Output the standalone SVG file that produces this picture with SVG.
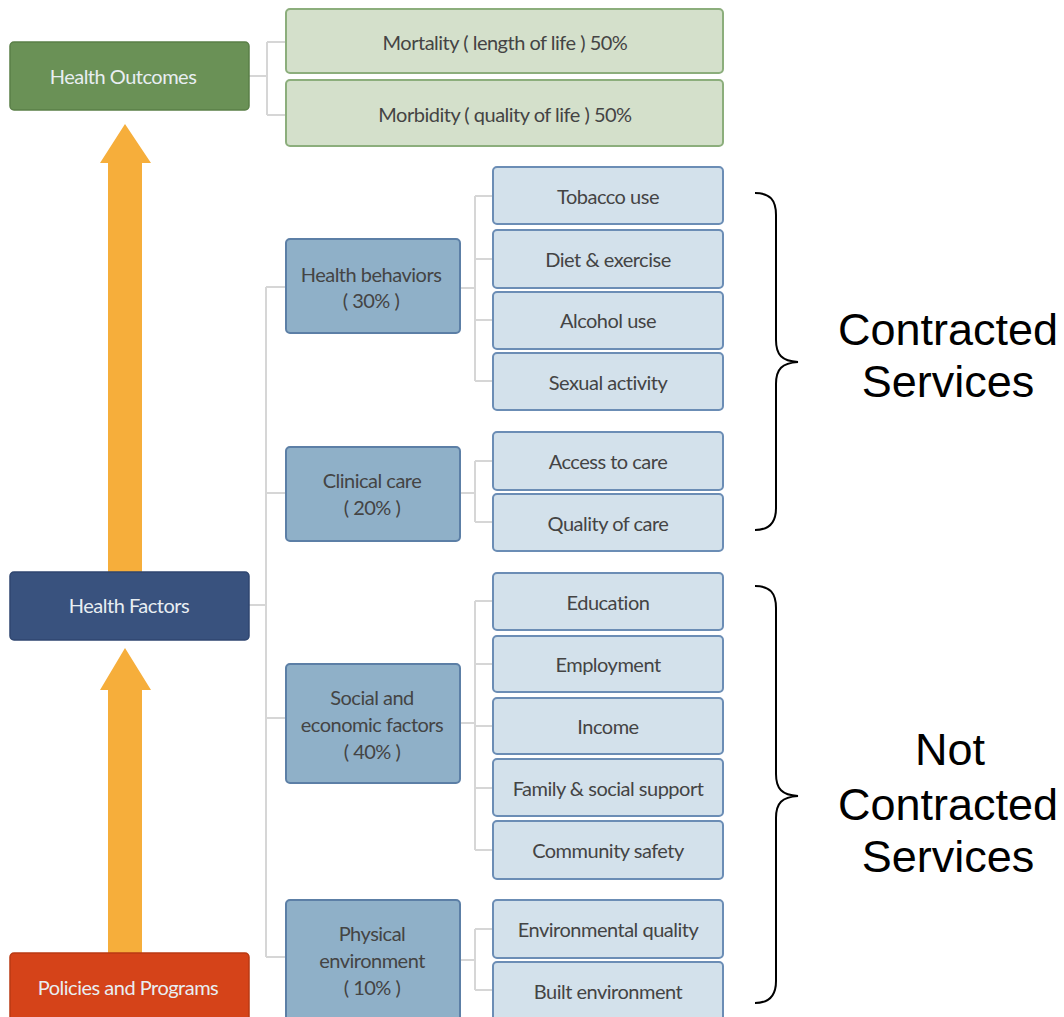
<svg xmlns="http://www.w3.org/2000/svg" width="1064" height="1017" viewBox="0 0 1064 1017">
<defs>
<style>
.t{font-family:Lato,"Open Sans","Liberation Sans",sans-serif;font-size:20px;letter-spacing:-0.5px;text-anchor:middle;dominant-baseline:central}
.dk{fill:#444}
.lt{fill:#e8eef2}
.green{fill:#d4e0cb;stroke:#8cae7c;stroke-width:2}
.leaf{fill:#d3e1eb;stroke:#6b8db5;stroke-width:2}
.cat{fill:#8fb0c8;stroke:#5c7fa6;stroke-width:2}
.conn{fill:none;stroke:#d6d6d6;stroke-width:2}
.brace{fill:none;stroke:#000;stroke-width:2}
.big{font-family:"Liberation Sans",Arial,sans-serif;font-size:45px;text-anchor:middle;fill:#000}
.arrow{fill:#f6ae3b}
</style>
</defs>
<rect width="1064" height="1017" fill="#fff"/>
<g id="connectors">
<path class="conn" d="M249 76H267M267 42V115M267 42H286M267 115H286"/>
<path class="conn" d="M266 287V957M249 605H266M266 287H286M266 493H286M266 718H286M266 957H286"/>
<path class="conn" d="M460 288H475M475 196V381M475 196H493M475 259H493M475 320H493M475 381H493"/>
<path class="conn" d="M460 493H475M475 461V522M475 461H493M475 522H493"/>
<path class="conn" d="M460 723H475M475 601V850M475 601H493M475 664H493M475 726H493M475 788H493M475 850H493"/>
<path class="conn" d="M460 960H475M475 929V990M475 929H493M475 990H493"/>
</g>
<g id="arrow-up-1"><path class="arrow" d="M108 572V163H100L125 124L151 163H142V572Z"/></g>
<g id="arrow-up-2"><path class="arrow" d="M108 953V690H100L125 648L151 690H142V953Z"/></g>
<g id="health-outcomes"><rect x="10" y="42" width="239" height="68" rx="4" fill="#6a9156" stroke="#5a7f47" stroke-width="1.5"/><text class="t lt" x="123" y="76">Health Outcomes</text></g>
<g id="mortality"><rect class="green" x="286" y="9" width="437" height="64" rx="4"/><text class="t dk" x="505" y="42">Mortality ( length of life ) 50%</text></g>
<g id="morbidity"><rect class="green" x="286" y="80" width="437" height="66" rx="4"/><text class="t dk" x="505" y="114">Morbidity ( quality of life ) 50%</text></g>
<g id="health-factors"><rect x="10" y="572" width="239" height="68" rx="4" fill="#39527e" stroke="#2f4670" stroke-width="1.5"/><text class="t lt" x="129" y="605">Health Factors</text></g>
<g id="policies"><rect x="10" y="953" width="239" height="70" rx="4" fill="#d54319" stroke="#b93a13" stroke-width="1.5"/><text class="t lt" x="128" y="987">Policies and Programs</text></g>
<g id="health-behaviors"><rect class="cat" x="286" y="239" width="174" height="94" rx="4"/><text class="t dk" x="371" y="274">Health behaviors</text><text class="t dk" x="371" y="300">( 30% )</text></g>
<g id="clinical-care"><rect class="cat" x="286" y="447" width="174" height="94" rx="4"/><text class="t dk" x="372" y="480">Clinical care</text><text class="t dk" x="372" y="507">( 20% )</text></g>
<g id="social-economic"><rect class="cat" x="286" y="664" width="174" height="119" rx="4"/><text class="t dk" x="372" y="697">Social and</text><text class="t dk" x="372" y="724">economic factors</text><text class="t dk" x="372" y="751">( 40% )</text></g>
<g id="physical-environment"><rect class="cat" x="286" y="900" width="174" height="125" rx="4"/><text class="t dk" x="372" y="933">Physical</text><text class="t dk" x="372" y="960">environment</text><text class="t dk" x="372" y="987">( 10% )</text></g>
<g id="tobacco"><rect class="leaf" x="493" y="167" width="230" height="57" rx="4"/><text class="t dk" x="608" y="196">Tobacco use</text></g>
<g id="diet"><rect class="leaf" x="493" y="230" width="230" height="58" rx="4"/><text class="t dk" x="608" y="259">Diet &amp; exercise</text></g>
<g id="alcohol"><rect class="leaf" x="493" y="292" width="230" height="57" rx="4"/><text class="t dk" x="608" y="320">Alcohol use</text></g>
<g id="sexual"><rect class="leaf" x="493" y="353" width="230" height="57" rx="4"/><text class="t dk" x="608" y="382">Sexual activity</text></g>
<g id="access"><rect class="leaf" x="493" y="432" width="230" height="58" rx="4"/><text class="t dk" x="608" y="461">Access to care</text></g>
<g id="quality"><rect class="leaf" x="493" y="494" width="230" height="57" rx="4"/><text class="t dk" x="608" y="523">Quality of care</text></g>
<g id="education"><rect class="leaf" x="493" y="573" width="230" height="57" rx="4"/><text class="t dk" x="608" y="602">Education</text></g>
<g id="employment"><rect class="leaf" x="493" y="636" width="230" height="56" rx="4"/><text class="t dk" x="608" y="664">Employment</text></g>
<g id="income"><rect class="leaf" x="493" y="698" width="230" height="56" rx="4"/><text class="t dk" x="608" y="726">Income</text></g>
<g id="family"><rect class="leaf" x="493" y="759" width="230" height="57" rx="4"/><text class="t dk" x="608" y="788">Family &amp; social support</text></g>
<g id="community"><rect class="leaf" x="493" y="821" width="230" height="58" rx="4"/><text class="t dk" x="608" y="850">Community safety</text></g>
<g id="environmental"><rect class="leaf" x="493" y="900" width="230" height="58" rx="4"/><text class="t dk" x="608" y="929">Environmental quality</text></g>
<g id="built"><rect class="leaf" x="493" y="962" width="230" height="60" rx="4"/><text class="t dk" x="608" y="991">Built environment</text></g>
<g id="brace-contracted"><path class="brace" d="M755 193C770 193 776 200 776 215V340C776 355 782 361 798 362C782 363 776 369 776 384V508C776 522 770 530 755 530"/><text class="big" x="948" y="345">Contracted</text><text class="big" x="948" y="397">Services</text></g>
<g id="brace-not-contracted"><path class="brace" d="M755 586C770 586 776 593 776 608V774C776 789 782 795 798 796C782 797 776 803 776 818V981C776 995 770 1003 755 1003"/><text class="big" x="950" y="765">Not</text><text class="big" x="948" y="820">Contracted</text><text class="big" x="948" y="872">Services</text></g>
</svg>
